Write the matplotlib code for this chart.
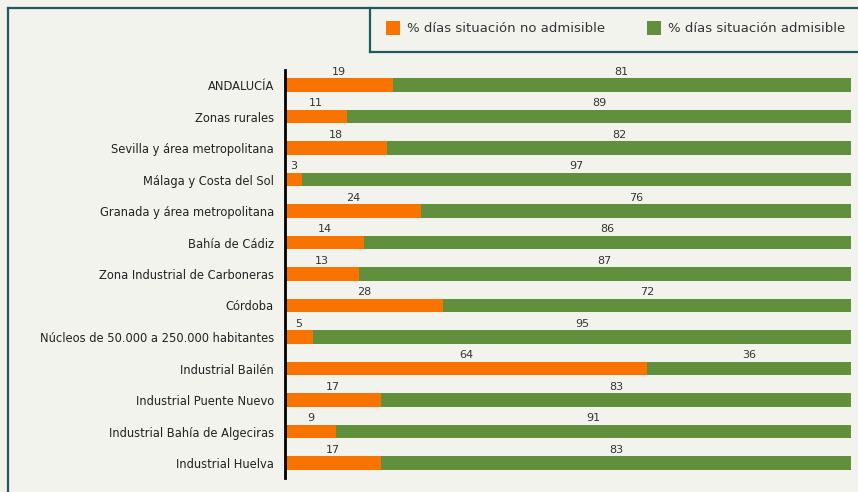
import matplotlib
matplotlib.use("Agg")
import matplotlib.pyplot as plt
from matplotlib.lines import Line2D
from matplotlib.patches import Rectangle

categories = [
    "ANDALUCÍA",
    "Zonas rurales",
    "Sevilla y área metropolitana",
    "Málaga y Costa del Sol",
    "Granada y área metropolitana",
    "Bahía de Cádiz",
    "Zona Industrial de Carboneras",
    "Córdoba",
    "Núcleos de 50.000 a 250.000 habitantes",
    "Industrial Bailén",
    "Industrial Puente Nuevo",
    "Industrial Bahía de Algeciras",
    "Industrial Huelva",
]
no_admisible = [19, 11, 18, 3, 24, 14, 13, 28, 5, 64, 17, 9, 17]
admisible = [81, 89, 82, 97, 76, 86, 87, 72, 95, 36, 83, 91, 83]
series_names = ["% días situación no admisible", "% días situación admisible"]

ORANGE = "#f97300"
GREEN = "#628f3b"
BG = "#f3f3ee"
TEAL = "#1d5c5e"

W, H = 858, 492
fig = plt.figure(figsize=(W / 100, H / 100), dpi=100, facecolor=BG)

# axes placement in pixels
x0, x1 = 285, 851
ytop, ybot = 70, 478
ax = fig.add_axes([x0 / W, (H - ybot) / H, (x1 - x0) / W, (ybot - ytop) / H])
ax.set_facecolor("none")

n = len(categories)
ypos = list(range(n))
bh = 0.42
ax.barh(ypos, no_admisible, height=bh, color=ORANGE, linewidth=0)
ax.barh(ypos, admisible, left=no_admisible, height=bh, color=GREEN, linewidth=0)

for i in range(n):
    a = no_admisible[i]
    b = admisible[i]
    ax.text(a / 2, i - 0.42, f"{a}", ha="center", va="center",
            fontsize=8, color="#333333")
    ax.text(a + b / 2, i - 0.42, f"{b}", ha="center", va="center",
            fontsize=8, color="#333333")

ax.set_xlim(0, 100)
pad = 15 / 31.5
ax.set_ylim(n - 1 + pad, -pad)
ax.set_yticks(ypos)
ax.set_yticklabels(categories, fontsize=8.3, color="#222222")
ax.tick_params(axis="y", length=0, pad=8)
ax.set_xticks([])
for s in ["top", "right", "bottom"]:
    ax.spines[s].set_visible(False)
ax.spines["left"].set_linewidth(2)
ax.spines["left"].set_color("black")

# outer frame (top and left)
def px_line(xa, ya, xb, yb, lw=1.6):
    fig.add_artist(Line2D([xa / W, xb / W], [1 - ya / H, 1 - yb / H],
                          transform=fig.transFigure, color=TEAL, linewidth=lw))

px_line(8, 8, W, 8)
px_line(8, 8, 8, H)
# legend box
px_line(369.5, 8, 369.5, 51.5)
px_line(369.5, 51.5, W, 51.5)

# legend entries
def legend_item(xs, label, color):
    fig.add_artist(Rectangle((xs / W, 1 - 35 / H), 14 / W, 14 / H,
                             transform=fig.transFigure, color=color, linewidth=0))
    fig.text((xs + 21) / W, 1 - 29 / H, label, fontsize=9.5, color="#333333",
             ha="left", va="center")

legend_item(386, series_names[0], ORANGE)
legend_item(647, series_names[1], GREEN)

fig.savefig("out.png", dpi=100, facecolor=BG)
